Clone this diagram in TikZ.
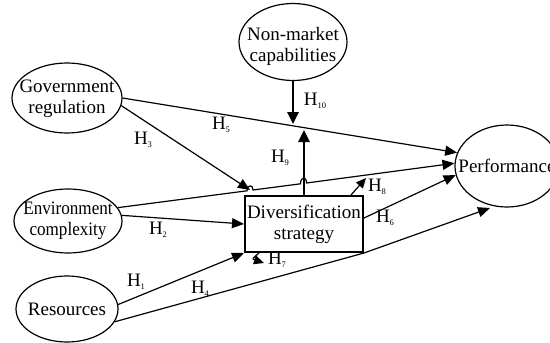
\documentclass[tikz,border=0pt]{standalone}
\usepackage{fontspec}
\setmainfont{Liberation Serif}
\usetikzlibrary{arrows.meta,shapes.geometric}
\newcommand\fs{\fontsize{19}{21}\selectfont}
\newcommand\Hx[1]{H\raisebox{-0.35ex}{\fontsize{8.5}{8.5}\selectfont #1}}
\begin{document}
\begin{tikzpicture}[x=1pt,y=-1pt,
  ell/.style={draw, ellipse, inner sep=0pt, line width=1.2pt},
  txt/.style={align=center, font=\fs, inner sep=0pt},
  box/.style={draw, rectangle, line width=2pt, inner sep=0pt, align=center, font=\fs},
  conn/.style={line width=1.2pt, -{Triangle[length=12pt,width=10pt]}},
  heavy/.style={line width=2.6pt, -{Triangle[length=12pt,width=11pt]}},
  smallarr/.style={line width=1.2pt, -{Triangle[length=10pt,width=9pt]}},
  hl/.style={font=\fs, inner sep=0pt}]
\useasboundingbox (0,0) rectangle (550,343);
\clip (0,0) rectangle (550,343);
% ellipses
\node[ell, minimum width=108pt, minimum height=77pt] (nm) at (293,42) {};
\node[txt] (nmt) at (293,46) {Non-market\\capabilities};
\node[ell, minimum width=110pt, minimum height=70pt] (gov) at (67,98) {};
\node[txt] (govt) at (67,99) {Government\\regulation};
\node[ell, minimum width=108pt, minimum height=64pt] (env) at (68,221) {};
\node[txt] (envt) at (68,221) {\scalebox{0.9}[1]{Environment}\\\scalebox{0.9}[1]{complexity}};
\node[ell, minimum width=102pt, minimum height=66pt] (res) at (67,309) {};
\node[txt] (rest) at (67,309) {Resources};
\node[ell, minimum width=104pt, minimum height=82pt] (perf) at (507,166) {};
\node[txt] (perft) at (507,166) {Performance};
\node[box, minimum width=118pt, minimum height=56pt] (div) at (304,224) {Diversification\\strategy};
% free ends
\coordinate (h10tip) at (293,124);
\coordinate (h9tip) at (304,130);
\coordinate (h3tip) at (250,190);
\coordinate (h8tip) at (366,178);
\coordinate (h7tip) at (264,263);
\coordinate (h4end) at (490,208);
\coordinate (ha1) at (247,190.8);
\coordinate (ha2) at (253,190.0);
\coordinate (hb1) at (300.5,183.8);
\coordinate (hb2) at (306.5,183.0);
% connectors
\draw[heavy] (nm.south) -- (h10tip);
\draw[conn] (gov.east) -- (perf.165);
\draw[conn] (gov.-8) -- (h3tip);
\draw[conn] (env.15) -- (ha1) .. controls ([yshift=6pt]ha1) and ([yshift=6pt]ha2) .. (ha2)
  -- (hb1) .. controls ([yshift=7pt]hb1) and ([yshift=7pt]hb2) .. (hb2) -- (perf.177);
\draw[heavy] (div.north) -- (h9tip);
\draw[conn] (env.6) -- (div.west);
\draw[conn] (res.5) -- (div.south west);
\draw[conn] (res.-15) -- (div.south east) -- (h4end);
\draw[conn] ([yshift=6pt]div.east) -- (perf.190);
\draw[smallarr] ([xshift=-13pt]div.north east) -- (h8tip);
\draw[smallarr] ([xshift=15pt]div.south west) .. controls (252,259) .. (h7tip);
% labels
\node[hl] (l10) at (315,101) {\Hx{10}};
\node[hl] (l5) at (221,125) {\Hx{5}};
\node[hl] (l3) at (143,140) {\Hx{3}};
\node[hl] (l9) at (280,158) {\Hx{9}};
\node[hl] (l8) at (377,187) {\Hx{8}};
\node[hl] (l6) at (385,218) {\Hx{6}};
\node[hl] (l2) at (158,230) {\Hx{2}};
\node[hl] (l1) at (136,282) {\Hx{1}};
\node[hl] (l4) at (200,289) {\Hx{4}};
\node[hl] (l7) at (277,260) {\Hx{7}};
\end{tikzpicture}
\end{document}
